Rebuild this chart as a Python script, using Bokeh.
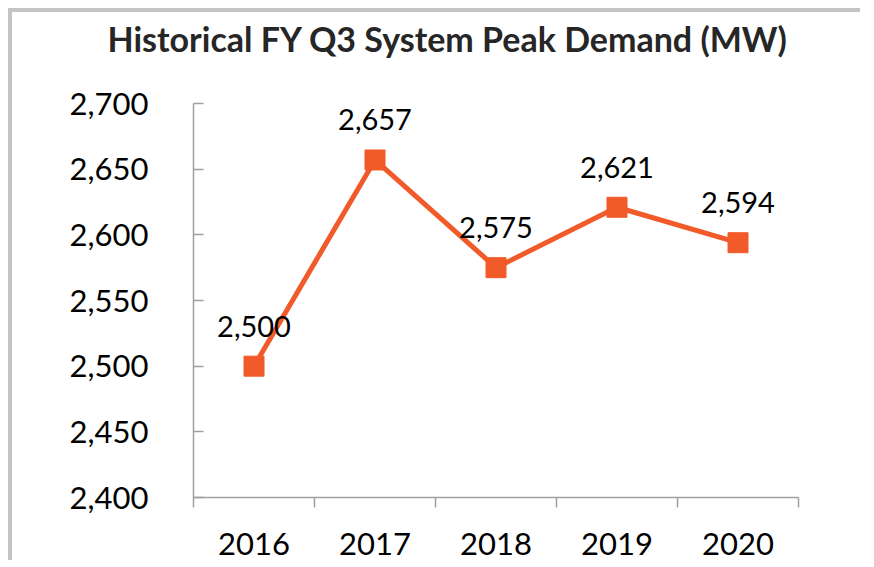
from bokeh.plotting import figure
from bokeh.models import ColumnDataSource, FixedTicker, NumeralTickFormatter, Range1d
from bokeh.core.properties import value
from bokeh.embed import file_html
from bokeh.resources import INLINE

years = ["2016", "2017", "2018", "2019", "2020"]
demand = [2500, 2657, 2575, 2621, 2594]
labels = ["2,500", "2,657", "2,575", "2,621", "2,594"]
y_ticks = [2400, 2450, 2500, 2550, 2600, 2650, 2700]
title_text = "Historical FY Q3 System Peak Demand (MW)"

xpos = [i + 0.5 for i in range(len(years))]
src = ColumnDataSource(dict(x=xpos, y=demand, lab=labels))

FONT = "Lato"
ORANGE = "#F15A29"
AXIS = "#a0a0a0"

# frame extends above 2,700 to leave room under the title; axis line bounded to 2400-2700
Y_MIN, Y_MAX = 2400, 2700
Y_TOP = Y_MAX + 42 * (Y_MAX - Y_MIN) / 394

p = figure(frame_width=605, frame_height=436, output_backend="svg", toolbar_location=None,
           x_range=Range1d(0, len(years)), y_range=Range1d(Y_MIN, Y_TOP),
           min_border_left=181, min_border_right=62, min_border_top=48, min_border_bottom=63,
           title=title_text)
p.styles = {"border-top": "4px solid #c4c4c4", "border-left": "4px solid #c4c4c4",
            "margin-left": "8px", "margin-top": "8px"}
p.outline_line_color = None
p.xgrid.visible = False
p.ygrid.visible = False
p.background_fill_color = "white"
p.border_fill_color = "white"

p.title.text_font = FONT
p.title.text_font_style = "bold"
p.title.text_font_size = "34px"
p.title.text_color = "#262626"
p.title.align = "left"
p.title.offset = -86
p.title.standoff = 6

# x axis: ticks at boundaries (minor), labels at centres (major)
p.xaxis.ticker = FixedTicker(ticks=xpos, minor_ticks=list(range(len(years) + 1)))
p.xaxis.major_label_overrides = {x: y for x, y in zip(xpos, years)}
p.xaxis.major_tick_in = 0
p.xaxis.major_tick_out = 0
p.xaxis.minor_tick_in = 0
p.xaxis.minor_tick_out = 10
p.xaxis.minor_tick_line_color = AXIS
p.xaxis.minor_tick_line_width = 1.5
p.xaxis.axis_line_color = AXIS
p.xaxis.axis_line_width = 1.5
p.xaxis.major_label_text_font = FONT
p.xaxis.major_label_text_font_size = "31px"
p.xaxis.major_label_text_color = "black"
p.xaxis.major_label_standoff = 25

p.yaxis.ticker = FixedTicker(ticks=y_ticks, minor_ticks=[])
p.yaxis.bounds = (Y_MIN, Y_MAX)
p.yaxis.formatter = NumeralTickFormatter(format="0,0")
p.yaxis.major_tick_in = 10
p.yaxis.major_tick_out = 0
p.yaxis.major_tick_line_color = AXIS
p.yaxis.major_tick_line_width = 1.5
p.yaxis.axis_line_color = AXIS
p.yaxis.axis_line_width = 1.5
p.yaxis.major_label_text_font = FONT
p.yaxis.major_label_text_font_size = "31px"
p.yaxis.major_label_text_color = "black"
p.yaxis.major_label_standoff = 45

p.line("x", "y", source=src, line_color=ORANGE, line_width=5)
p.scatter("x", "y", source=src, marker="square", size=20, fill_color=ORANGE, line_color=ORANGE)
p.text("x", "y", text="lab", source=src, text_font=value(FONT), text_font_size="29px",
       text_align="center", text_baseline="alphabetic", y_offset=-40, text_color="black")

open("out.html", "w").write(file_html(p, INLINE))
